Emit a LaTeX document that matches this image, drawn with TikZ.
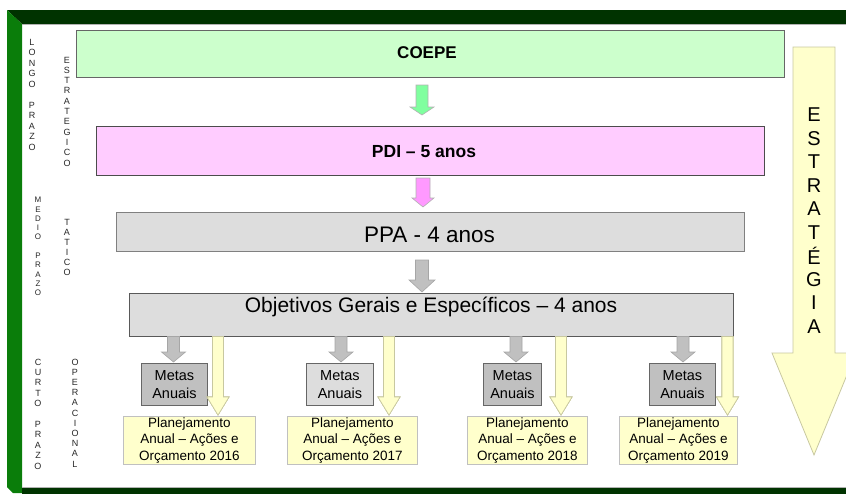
\documentclass[tikz,border=0pt]{standalone}
\usepackage{fontspec}
\setmainfont{Liberation Sans}
\definecolor{darkband}{HTML}{003300}
\definecolor{leftband}{HTML}{0A7D0A}
\definecolor{coepefill}{HTML}{CCFFCC}
\definecolor{pdifill}{HTML}{FFCCFF}
\definecolor{lgray}{HTML}{DDDDDD}
\definecolor{dgray}{HTML}{C0C0C0}
\definecolor{lyellow}{HTML}{FFFFCC}
\definecolor{yborder}{HTML}{C8C8A0}
\definecolor{agreen}{HTML}{80FF9F}
\definecolor{apink}{HTML}{FF99FF}
\newcommand\blkarrow[7]{%
  \draw[#7] (#1-#5,#2) -- (#1+#5,#2) -- (#1+#5,#3) -- (#1+#6,#3) -- (#1,#4) -- (#1-#6,#3) -- (#1-#5,#3) -- cycle;}
\newcommand\vletters[5]{%
  \foreach \c [count=\i] in {#4} \node[vlet,#5] at (#1,{#2+(\i-1)*#3}) {\c};}
\begin{document}
\begin{tikzpicture}[x=1pt,y=-1pt,
  box/.style={draw, line width=0.9pt, anchor=north west, inner sep=0pt},
  vlet/.style={inner sep=0pt, font=\fontsize{9}{9}\selectfont, text=black!85},
  metas/.style={box, draw=black!60, align=center, font=\fontsize{14.5}{17.5}\selectfont},
  plan/.style={box, draw=dgray, fill=lyellow, align=center, font=\fontsize{13.5}{16.5}\selectfont},
  grayarrow/.style={fill=dgray, draw=black!35, line width=0.6pt},
  yarrow/.style={fill=lyellow, draw=yborder, line width=0.6pt}]
\useasboundingbox (0,0) rectangle (846,493);
\clip (0,0) rectangle (846,493);
% frame
\fill[darkband] (7,10) -- (860,10) -- (860,24) -- (22,24) -- cycle;
\fill[leftband] (7,10) -- (22,24) -- (22,493) -- (13,493) -- (7,487) -- cycle;
\fill[darkband] (22,488) rectangle (860,500);
\draw[black!30, line width=0.6pt] (22,24.5) -- (860,24.5);
\draw[black!30, line width=0.6pt] (22,487.5) -- (860,487.5);
% big strategy arrow
\blkarrow{814}{47}{353}{455}{21}{42}{fill=lyellow, draw=yborder, line width=0.8pt}
\foreach \c [count=\i] in {E,S,T,R,A,T,É,G,I,A}
  \node[inner sep=0pt, font=\fontsize{20}{20}\selectfont] (est\i) at (814,{115+(\i-1)*23.5}) {\c};
% main boxes
\node[box, draw=black!60, fill=coepefill, minimum width=708, minimum height=47] (coepe) at (76,30) {};
\node[font=\fontsize{17}{17}\bfseries] (coepet) at (427,53) {COEPE};
\node[box, draw=black!70, fill=pdifill, minimum width=668, minimum height=49] (pdi) at (96,126) {};
\node[font=\fontsize{17.5}{17.5}\bfseries] (pdit) at (424,152) {PDI – 5 anos};
\node[box, draw=black!50, fill=lgray, minimum width=628, minimum height=39] (ppa) at (116,212) {};
\node[font=\fontsize{22.5}{22.5}\selectfont] (ppat) at (429.5,235) {PPA - 4 anos};
\node[box, draw=black!65, fill=lgray, minimum width=604, minimum height=43] (obj) at (129,293) {};
\node[font=\fontsize{21}{21}\selectfont] (objt) at (431,307) {Objetivos Gerais e Específicos – 4 anos};
% arrows between main boxes
\blkarrow{422}{85}{107}{115}{6}{12}{fill=agreen, draw=black!30, line width=0.6pt}
\blkarrow{423}{178}{198}{207}{7}{11}{fill=apink, draw=black!30, line width=0.6pt}
\blkarrow{422}{260}{280}{292}{6.5}{13}{grayarrow}
% metas
\node[metas, fill=dgray, minimum width=66, minimum height=42] (m1) at (141,363) {Metas\\Anuais};
\node[metas, fill=lgray, minimum width=67, minimum height=42] (m2) at (306,363) {Metas\\Anuais};
\node[metas, fill=dgray, minimum width=58, minimum height=42] (m3) at (483,363) {Metas\\Anuais};
\node[metas, fill=dgray, minimum width=66, minimum height=42] (m4) at (649,363) {Metas\\Anuais};
% gray arrows to metas
\foreach \xc in {173.5,341,516,683}
  \blkarrow{\xc}{336.5}{352}{362}{6}{12}{grayarrow}
% yellow arrows
\foreach \xc in {218,389,561,727.5}
  \blkarrow{\xc}{336.5}{397}{415}{5.5}{11}{yarrow}
% planejamento
\node[plan, minimum width=132, minimum height=48] (p1) at (123,416) {Planejamento\\Anual – Ações e\\Orçamento 2016};
\node[plan, minimum width=130, minimum height=48] (p2) at (287,416) {Planejamento\\Anual – Ações e\\Orçamento 2017};
\node[plan, minimum width=120, minimum height=48] (p3) at (467,416) {Planejamento\\Anual – Ações e\\Orçamento 2018};
\node[plan, minimum width=118, minimum height=48] (p4) at (619,416) {Planejamento\\Anual – Ações e\\Orçamento 2019};
% side labels
\vletters{32}{42}{10.5}{L,O,N,G,O,,P,R,A,Z,O}{}
\vletters{67}{60}{10.3}{E,S,T,R,A,T,E,G,I,C,O}{}
\vletters{38}{200}{9.3}{M,E,D,I,O,,P,R,A,Z,O}{font=\fontsize{8}{8}\selectfont}
\vletters{67}{222}{10}{T,A,T,I,C,O}{}
\vletters{38}{362}{10.4}{C,U,R,T,O,,P,R,A,Z,O}{}
\vletters{75}{362}{10.2}{O,P,E,R,A,C,I,O,N,A,L}{}
\end{tikzpicture}
\end{document}
